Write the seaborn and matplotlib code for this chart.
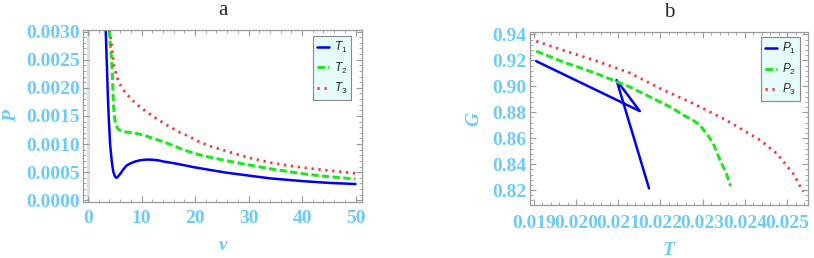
import pandas as pd
import seaborn as sns
import matplotlib.pyplot as plt
from matplotlib.ticker import MultipleLocator, FormatStrFormatter

# panel a: P against v for three temperatures
v1 = [3.3, 3.5, 3.7, 3.85, 4.0, 4.12, 4.3, 4.45, 4.6, 4.75, 5.0, 5.25, 5.5, 6.0, 6.6, 7.2,
      8.0, 8.8, 9.6, 10.4, 11.3, 12.2, 13.2, 14.1, 15.4, 16.6, 18.2, 19.7, 21.6, 22.8, 26.0,
      30.0, 34.1, 40.3, 45.0, 50.0]
P1 = [0.00303, 0.00245, 0.00186, 0.0015, 0.00122, 0.001, 0.00082, 0.00068, 0.00058, 0.0005,
      0.00043, 0.0004, 0.00041, 0.00047, 0.00055, 0.00062, 0.00066, 0.00069, 0.00071, 0.00072,
      0.000725, 0.00072, 0.00071, 0.00069, 0.00067, 0.00065, 0.00062, 0.00059, 0.00056,
      0.00054, 0.00049, 0.00044, 0.00039, 0.00034, 0.00031, 0.00029]
v2 = [3.95, 4.2, 4.43, 4.6, 4.74, 4.9, 5.06, 5.3, 5.68, 6.6, 7.5, 8.5, 10.4, 12.2, 14.1, 16.0,
      17.8, 19.7, 21.6, 24.1, 26.6, 30.0, 34.1, 40.3, 45.0, 50.0]
P2 = [0.00303, 0.00272, 0.00247, 0.0021, 0.0017, 0.00152, 0.00141, 0.00132, 0.00126, 0.00122,
      0.00121, 0.0012, 0.00116, 0.0011, 0.00104, 0.00097, 0.0009, 0.00084, 0.00079, 0.00074,
      0.00069, 0.00063, 0.00056, 0.00047, 0.00042, 0.00038]
v3 = [4.0, 4.43, 4.87, 5.3, 5.68, 6.3, 7.12, 8.0, 8.8, 10.7, 12.7, 14.7, 16.9, 19.0, 21.0,
      23.2, 25.7, 27.8, 30.0, 34.1, 37.2, 40.3, 45.0, 50.0]
P3 = [0.00303, 0.00275, 0.00238, 0.00222, 0.00212, 0.002, 0.0019, 0.00181, 0.00173, 0.00159,
      0.00146, 0.00134, 0.00122, 0.00113, 0.00103, 0.00095, 0.00088, 0.00082, 0.00076, 0.00067,
      0.00062, 0.00058, 0.00053, 0.00048]

# panel b: G against T for three pressures
T1 = [0.01906, 0.02151, 0.02096, 0.02173]
G1 = [0.9194, 0.8809, 0.9048, 0.8213]
T2 = [0.01906, 0.01969, 0.02048, 0.02127, 0.02199, 0.0223, 0.02254, 0.02277, 0.02293, 0.02309,
      0.02325, 0.02341, 0.02356, 0.02366]
G2 = [0.9271, 0.9189, 0.9099, 0.8996, 0.888, 0.8829, 0.8778, 0.8739, 0.8701, 0.8637, 0.856,
      0.8431, 0.8328, 0.823]
T3 = [0.01906, 0.01969, 0.02048, 0.02127, 0.02199, 0.02277, 0.02356, 0.02436, 0.02475, 0.02514,
      0.02538]
G3 = [0.9348, 0.9279, 0.9196, 0.9104, 0.8984, 0.8868, 0.8739, 0.8585, 0.8483, 0.8328, 0.8186]

labels_a = ["$T_1$", "$T_2$", "$T_3$"]
labels_b = ["$P_1$", "$P_2$", "$P_3$"]

sns.set_style("ticks")
plt.rcParams["mathtext.fontset"] = "custom"
plt.rcParams["mathtext.it"] = "Liberation Sans:italic"
plt.rcParams["mathtext.rm"] = "Liberation Sans"

light_blue = "#6ccbfb"
frame_grey = "#9a9a9a"
styles = [dict(color="#0000f0", lw=1.8, linestyle="-"),
          dict(color="#1fe61f", lw=2.2, linestyle=(0, (2.4, 1.1))),
          dict(color="#ff3030", lw=2.0, linestyle=(0, (0.8, 1.7)))]

fig = plt.figure(figsize=(8.14, 2.58), dpi=100)
ax_a = fig.add_axes([0.102, 0.217, 0.343, 0.667])
ax_b = fig.add_axes([0.651, 0.205, 0.3415, 0.6705])


def draw(ax, xs, ys, labels):
    for x, y, lab, st in zip(xs, ys, labels, styles):
        df = pd.DataFrame({"x": x, "y": y})
        sns.lineplot(data=df, x="x", y="y", ax=ax, sort=False, estimator=None,
                     label=lab, **st)


def dress(ax, title, xlabel, ylabel, ylabelpad, xpad):
    for sp in ax.spines.values():
        sp.set_color(frame_grey)
        sp.set_linewidth(0.9)
    ax.tick_params(which="both", direction="in", top=True, right=True, color=frame_grey,
                   labelcolor=light_blue, labelsize=14, pad=2.5)
    ax.tick_params(axis="x", pad=xpad)
    ax.tick_params(which="major", length=4)
    ax.tick_params(which="minor", length=2)
    for t in ax.get_xticklabels() + ax.get_yticklabels():
        t.set_fontfamily("Liberation Serif")
        t.set_fontweight("bold")
    ax.set_title(title, fontfamily="Liberation Serif", fontsize=15, pad=11)
    lab = dict(fontfamily="Liberation Serif", fontweight="bold", fontstyle="italic",
               fontsize=14, color=light_blue)
    ax.set_xlabel(xlabel, labelpad=7, **lab)
    ax.set_ylabel(ylabel, labelpad=ylabelpad, **lab)


draw(ax_a, [v1, v2, v3], [P1, P2, P3], labels_a)
ax_a.axvline(0, color="#dcdcdc", lw=2, zorder=0)
ax_a.set_xlim(-0.94, 51.25)
ax_a.set_ylim(-0.00003, 0.00303)
ax_a.xaxis.set_major_locator(MultipleLocator(10))
ax_a.xaxis.set_minor_locator(MultipleLocator(2))
ax_a.yaxis.set_major_locator(MultipleLocator(0.0005))
ax_a.yaxis.set_minor_locator(MultipleLocator(0.0001))
ax_a.yaxis.set_major_formatter(FormatStrFormatter("%.4f"))
dress(ax_a, "a", "v", "P", 4, 6)

draw(ax_b, [T1, T2, T3], [G1, G2, G3], labels_b)
ax_b.set_xlim(0.01891, 0.02549)
ax_b.set_ylim(0.8084, 0.9418)
ax_b.xaxis.set_major_locator(MultipleLocator(0.001))
ax_b.xaxis.set_minor_locator(MultipleLocator(0.0002))
ax_b.xaxis.set_major_formatter(FormatStrFormatter("%.3f"))
ax_b.yaxis.set_major_locator(MultipleLocator(0.02))
ax_b.yaxis.set_minor_locator(MultipleLocator(0.004))
ax_b.yaxis.set_major_formatter(FormatStrFormatter("%.2f"))
dress(ax_b, "b", "T", "G", 7, 7)

for ax, anchor in [(ax_a, (0.961, 0.965)), (ax_b, (0.971, 0.971))]:
    leg = ax.legend(loc="upper right", bbox_to_anchor=anchor, borderaxespad=0,
                    fontsize=8.5, handlelength=1.0, handletextpad=0.4,
                    borderpad=0.35, labelspacing=0.45, fancybox=False, framealpha=1)
    leg.get_frame().set_facecolor("#e6fbfb")
    leg.get_frame().set_edgecolor("#888888")
    leg.get_frame().set_linewidth(0.8)

fig.savefig("out.png", dpi=100)
